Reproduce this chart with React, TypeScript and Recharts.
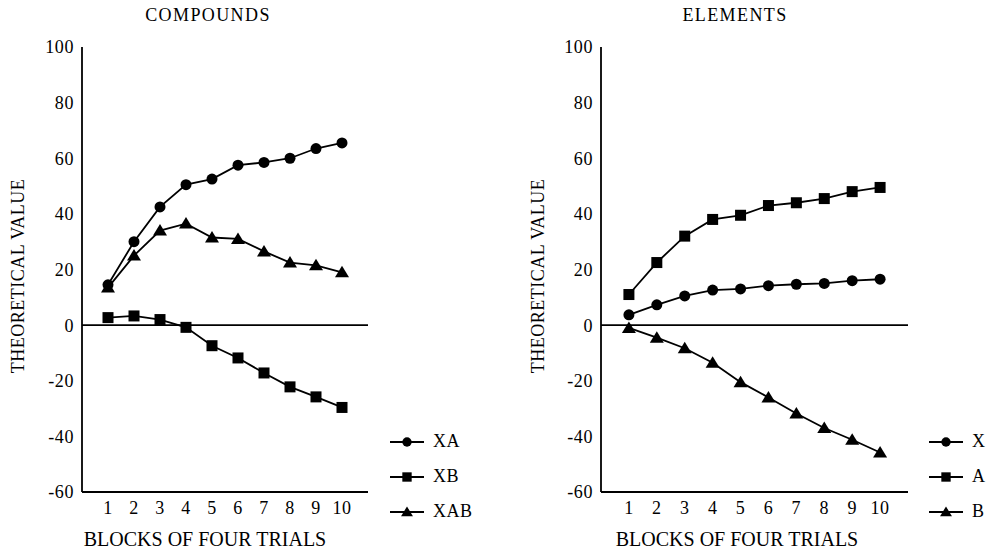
import React from 'react';
import { LineChart, Line, XAxis, YAxis, ReferenceLine } from 'recharts';

// Blocks of four trials (x axis) and value ticks (y axis)
const blocks = [1, 2, 3, 4, 5, 6, 7, 8, 9, 10];
const valueTicks = [-60, -40, -20, 0, 20, 40, 60, 80, 100];

// Compound stimuli
const compoundXA = [14.5, 30, 42.5, 50.5, 52.5, 57.5, 58.5, 60, 63.5, 65.5];
const compoundXB = [2.7, 3.3, 2, -0.8, -7.4, -11.8, -17.2, -22.2, -25.8, -29.6];
const compoundXAB = [13.5, 25, 34, 36.5, 31.5, 31, 26.5, 22.5, 21.5, 19];

// Element stimuli
const elementX = [3.7, 7.3, 10.5, 12.6, 13, 14.2, 14.7, 15, 16, 16.5];
const elementA = [11, 22.5, 32, 38, 39.5, 43, 44, 45.5, 48, 49.5];
const elementB = [-1, -4.5, -8.3, -13.5, -20.5, -26, -31.8, -37, -41.2, -45.8];

const FONT = 'Liberation Serif';
const INK = '#000';
const STROKE = 1.8;

type Shape = 'circle' | 'square' | 'triangle';

interface Series {
  name: string;
  values: number[];
  shape: Shape;
}

const markerPath = (shape: Shape, cx: number, cy: number, s = 1) => {
  if (shape === 'circle') return <circle cx={cx} cy={cy} r={5.5 * s} fill={INK} />;
  if (shape === 'square')
    return <rect x={cx - 5.5 * s} y={cy - 5.5 * s} width={11 * s} height={11 * s} fill={INK} />;
  return (
    <polygon
      points={`${cx},${cy - 6.5 * s} ${cx - 7 * s},${cy + 5 * s} ${cx + 7 * s},${cy + 5 * s}`}
      fill={INK}
    />
  );
};

const makeDot = (shape: Shape) => (props: any) => {
  const { cx, cy, index } = props;
  if (cx == null || cy == null) return <g key={`d-${index}`} />;
  return <g key={`d-${shape}-${index}`}>{markerPath(shape, cx, cy)}</g>;
};

interface PanelProps {
  title: string;
  series: Series[];
  left: number;
  chartWidth: number;
  marginRight: number;
  titleCenter: number;
  xLabelCenter: number;
  yLabelCenter: number;
  legendLeft: number;
}

const Panel = ({
  title,
  series,
  left,
  chartWidth,
  marginRight,
  titleCenter,
  xLabelCenter,
  yLabelCenter,
  legendLeft,
}: PanelProps) => {
  const rows = blocks.map((b, i) => {
    const row: Record<string, number> = { block: b };
    series.forEach((s) => {
      row[s.name] = s.values[i];
    });
    return row;
  });

  return (
    <>
      <div
        style={{
          position: 'absolute',
          left: left + titleCenter - 100,
          top: 4,
          width: 200,
          textAlign: 'center',
          fontFamily: FONT,
          fontSize: 18,
          lineHeight: '22px',
          letterSpacing: 1.4,
          color: INK,
        }}
      >
        {title}
      </div>
      <div style={{ position: 'absolute', left, top: 0 }}>
        <LineChart
          width={chartWidth}
          height={553}
          data={rows}
          margin={{ top: 47, right: marginRight, bottom: 0, left: 0 }}
        >
          <XAxis
            dataKey="block"
            type="number"
            domain={[0, 11]}
            ticks={blocks}
            height={61}
            axisLine={{ stroke: INK, strokeWidth: STROKE }}
            tickLine={false}
            tickSize={4}
            tickMargin={5}
            tick={{ fill: INK, fontFamily: FONT, fontSize: 18, letterSpacing: 0.5 }}
            label={{
              content: () => (
                <text
                  x={xLabelCenter}
                  y={546}
                  textAnchor="middle"
                  fontFamily={FONT}
                  fontSize={20}
                  fill={INK}
                >
                  BLOCKS OF FOUR TRIALS
                </text>
              ),
            }}
          />
          <YAxis
            type="number"
            domain={[-60, 100]}
            ticks={valueTicks}
            width={82}
            axisLine={{ stroke: INK, strokeWidth: STROKE }}
            tickLine={false}
            tickSize={4}
            tickMargin={4}
            tick={{ fill: INK, fontFamily: FONT, fontSize: 18, letterSpacing: 0.6 }}
            label={{
              content: () => (
                <text
                  x={yLabelCenter}
                  y={276}
                  transform={`rotate(-90 ${yLabelCenter} 276)`}
                  textAnchor="middle"
                  dominantBaseline="central"
                  fontFamily={FONT}
                  fontSize={18}
                  letterSpacing={0.5}
                  fill={INK}
                >
                  THEORETICAL VALUE
                </text>
              ),
            }}
          />
          <ReferenceLine y={0} stroke={INK} strokeWidth={STROKE} />
          {series.map((s) => (
            <Line
              key={s.name}
              dataKey={s.name}
              type="linear"
              stroke={INK}
              strokeWidth={STROKE}
              dot={makeDot(s.shape)}
              activeDot={false}
              isAnimationActive={false}
            />
          ))}
        </LineChart>
      </div>
      <div style={{ position: 'absolute', left: legendLeft, top: 424 }}>
        {series.map((s) => (
          <div
            key={s.name}
            style={{ display: 'flex', alignItems: 'center', height: 35 }}
          >
            <svg width={34} height={16} style={{ display: 'block' }}>
              <line x1={0} y1={8} x2={34} y2={8} stroke={INK} strokeWidth={STROKE} />
              {markerPath(s.shape, 17, 8, 0.85)}
            </svg>
            <span
              style={{
                marginLeft: 9,
                fontFamily: FONT,
                fontSize: 18,
                color: INK,
                letterSpacing: 0.5,
              }}
            >
              {s.name}
            </span>
          </div>
        ))}
      </div>
    </>
  );
};

export default function App() {
  return (
    <div
      style={{
        position: 'absolute',
        left: 0,
        top: 0,
        width: 993,
        height: 553,
        background: '#fff',
        overflow: 'hidden',
      }}
    >
      <Panel
        title="COMPOUNDS"
        series={[
          { name: 'XA', values: compoundXA, shape: 'circle' },
          { name: 'XB', values: compoundXB, shape: 'square' },
          { name: 'XAB', values: compoundXAB, shape: 'triangle' },
        ]}
        left={0}
        chartWidth={380}
        marginRight={12}
        titleCenter={208}
        xLabelCenter={205}
        yLabelCenter={18}
        legendLeft={390}
      />
      <Panel
        title="ELEMENTS"
        series={[
          { name: 'X', values: elementX, shape: 'circle' },
          { name: 'A', values: elementA, shape: 'square' },
          { name: 'B', values: elementB, shape: 'triangle' },
        ]}
        left={519}
        chartWidth={400}
        marginRight={11}
        titleCenter={216}
        xLabelCenter={218}
        yLabelCenter={19}
        legendLeft={929}
      />
    </div>
  );
}
